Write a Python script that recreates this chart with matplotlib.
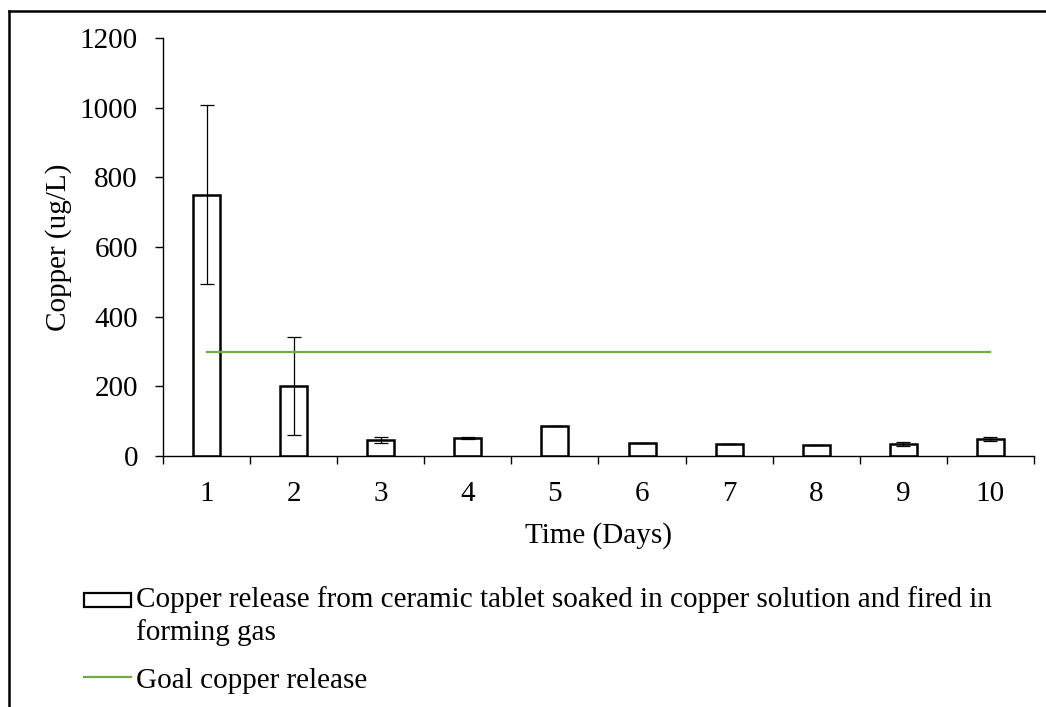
import matplotlib.pyplot as plt
from matplotlib.patches import Rectangle
from matplotlib.lines import Line2D

# values
days = [1, 2, 3, 4, 5, 6, 7, 8, 9, 10]
copper = [750, 201, 46, 52, 86, 37, 35, 31, 35, 49]
copper_err = [257, 140, 8, 2, 0, 0, 0, 0, 5, 6]
goal = [300] * len(days)

bar_label = ("Copper release from ceramic tablet soaked in copper solution and fired in\n"
             "forming gas")
goal_label = "Goal copper release"

plt.rcParams["font.family"] = ["Liberation Serif", "DejaVu Serif"]
plt.rcParams["font.size"] = 21

fig = plt.figure(figsize=(10.46, 7.07), dpi=100)
ax = fig.add_axes([0.1558, 0.355, 0.8327, 0.5913])

ax.bar(days, copper, width=0.31, color="white", edgecolor="black", linewidth=1.8,
       yerr=copper_err, capsize=5, error_kw={"elinewidth": 0.9, "capthick": 0.9, "ecolor": "black"},
       zorder=2)
ax.plot(days, goal, color="#70AD47", linewidth=1.6, zorder=3)

ax.set_xlim(0.5, 10.5)
ax.set_ylim(0, 1200)
ax.set_yticks(range(0, 1201, 200))
ax.set_xticks(days)
ax.set_xticks([d - 0.5 for d in days] + [10.5], minor=True)
ax.tick_params(axis="x", which="major", length=0, pad=18)
ax.tick_params(axis="x", which="minor", length=6, width=1, direction="out")
ax.tick_params(axis="y", length=6, width=1, direction="out", pad=12)

for side in ["top", "right"]:
    ax.spines[side].set_visible(False)
for side in ["left", "bottom"]:
    ax.spines[side].set_linewidth(1)

ax.set_xlabel("Time (Days)", labelpad=11)
ax.set_ylabel("Copper (ug/L)", labelpad=6)

# legend drawn below the axes, Excel style
W, H = 1046, 707
def fx(px):
    return px / W
def fy(py):
    return 1 - py / H

fig.patches.append(Rectangle((fx(84), fy(607)), fx(131) - fx(84), fy(593) - fy(607),
                             transform=fig.transFigure, facecolor="white",
                             edgecolor="black", linewidth=1.6))
for i, line in enumerate(bar_label.split("\n")):
    fig.text(fx(136), fy(607 + 33 * i), line, va="baseline", ha="left")
fig.lines.append(Line2D([fx(84), fx(131)], [fy(677), fy(677)], transform=fig.transFigure,
                        color="#70AD47", linewidth=1.6))
fig.text(fx(136), fy(688), goal_label, va="baseline", ha="left")

# outer frame (top and left edges only are visible)
fig.lines.append(Line2D([fx(9), 1], [fy(11), fy(11)], transform=fig.transFigure,
                        color="black", linewidth=1.8))
fig.lines.append(Line2D([fx(9), fx(9)], [fy(11), 0], transform=fig.transFigure,
                        color="black", linewidth=1.8))

fig.savefig("out.png", dpi=100)
